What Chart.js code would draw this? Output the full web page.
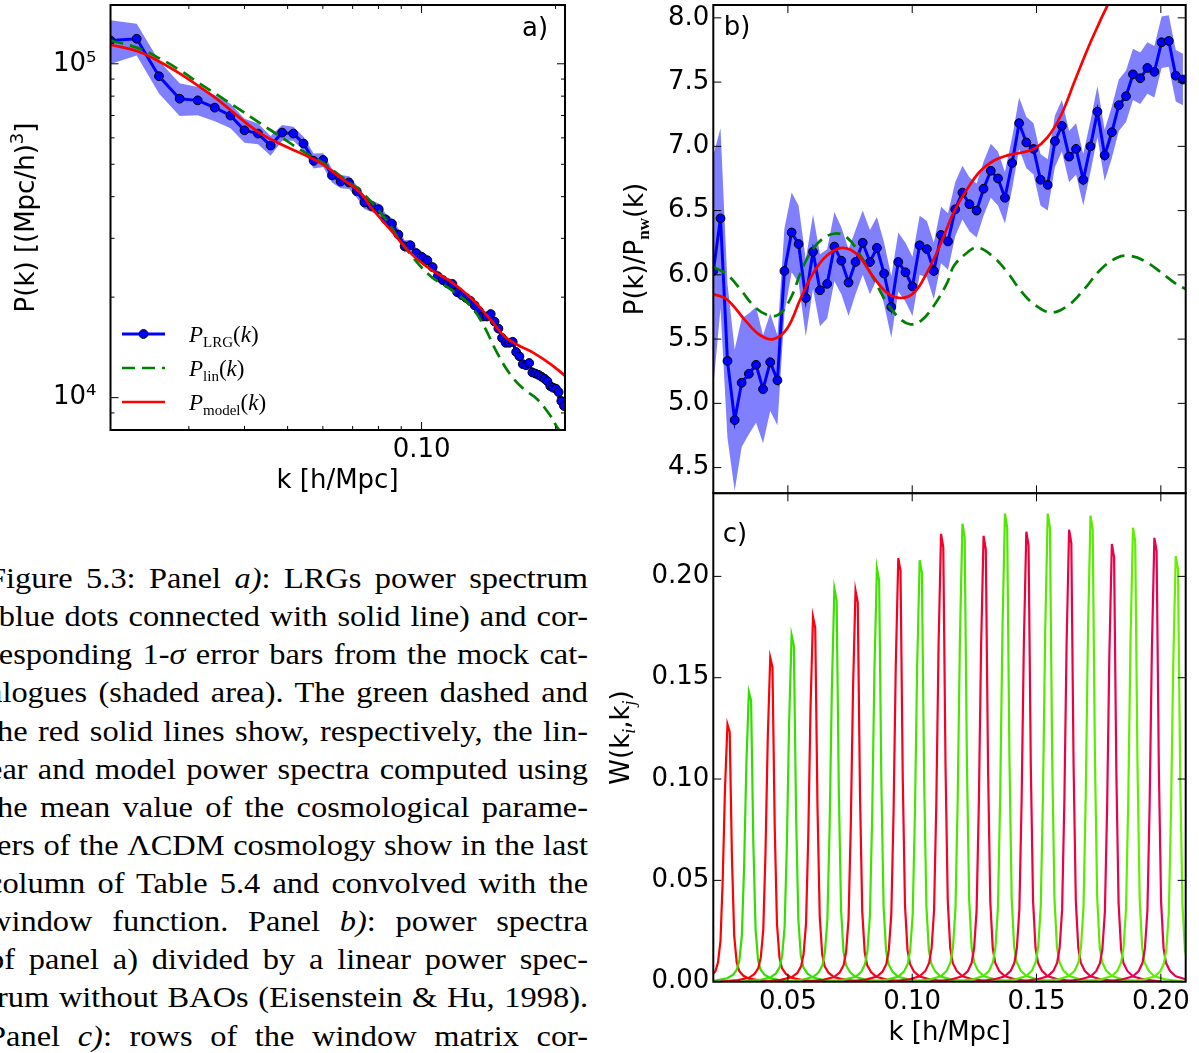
<!DOCTYPE html>
<html>
<head>
<meta charset="utf-8">
<script src="https://cdn.jsdelivr.net/npm/chart.js@4.4.0/dist/chart.umd.min.js"></script>
<style>
html, body { margin: 0; padding: 0; background: #fff; }
body { width: 1199px; height: 1053px; position: relative; overflow: hidden; }
canvas { position: absolute; }
#ca { left: 0; top: 0; }
#cb { left: 600px; top: 0; }
#cc { left: 600px; top: 480px; }
#caption {
    position: absolute; left: -12px; top: 559px; width: 546px;
    transform: scaleX(1.099); transform-origin: 0 0;
    font-family: "Liberation Serif", serif; font-size: 29.5px; line-height: 38.12px; color: #000;
}
#caption div { text-align: justify; text-align-last: justify; }
</style>
</head>
<body>
<canvas id="ca" width="600" height="500"></canvas>
<canvas id="cb" width="599" height="494"></canvas>
<canvas id="cc" width="599" height="573"></canvas>
<div id="caption">
<div>Figure 5.3: Panel <i>a)</i>: LRGs power spectrum</div>
<div>(blue dots connected with solid line) and cor-</div>
<div>responding 1-<i>σ</i> error bars from the mock cat-</div>
<div>alogues (shaded area). The green dashed and</div>
<div>the red solid lines show, respectively, the lin-</div>
<div>ear and model power spectra computed using</div>
<div>the mean value of the cosmological parame-</div>
<div>ters of the ΛCDM cosmology show in the last</div>
<div>column of Table 5.4 and convolved with the</div>
<div>window function. Panel <i>b)</i>: power spectra</div>
<div>of panel a) divided by a linear power spec-</div>
<div>trum without BAOs (Eisenstein &amp; Hu, 1998).</div>
<div>Panel <i>c)</i>: rows of the window matrix cor-</div>
</div>
<script>
// k bins of the measured spectrum [h/Mpc]
const kBins = [0.0200, 0.0229, 0.0257, 0.0286, 0.0314, 0.0343, 0.0372, 0.0400, 0.0429, 0.0458,
    0.0486, 0.0515, 0.0543, 0.0572, 0.0601, 0.0629, 0.0658, 0.0687, 0.0715, 0.0744,
    0.0772, 0.0801, 0.0830, 0.0858, 0.0887, 0.0916, 0.0944, 0.0973, 0.1001, 0.1030,
    0.1059, 0.1087, 0.1116, 0.1144, 0.1173, 0.1202, 0.1230, 0.1259, 0.1287, 0.1316,
    0.1345, 0.1373, 0.1402, 0.1430, 0.1459, 0.1488, 0.1516, 0.1545, 0.1574, 0.1602,
    0.1631, 0.1659, 0.1688, 0.1717, 0.1745, 0.1774, 0.1803, 0.1831, 0.1860, 0.1888,
    0.1917, 0.1946, 0.1974, 0.2003, 0.2032, 0.2060, 0.2089];

// panel a) LRG power spectrum
const lrgPower = [117400, 118800, 91800, 78600, 77700, 73900, 70000, 63200, 61800, 56900,
    62200, 61800, 57700, 51200, 51500, 46300, 44400, 44100, 41500, 38400,
    37500, 36700, 34200, 33200, 30800, 28400, 28600, 27100, 26400, 25800,
    24600, 23100, 22500, 22000, 21900, 20700, 20300, 19900, 19500, 18900,
    18200, 17500, 17500, 17800, 16900, 16100, 15100, 14600, 14600, 14700,
    13700, 13300, 12600, 12500, 12700, 11900, 11800, 11700, 11550, 11400,
    11200, 10830, 10710, 10640, 10390, 9770, 9440];

// panel b) P(k)/P_nw(k) and its 1-sigma error
const ratioLRG = [6.03, 6.44, 5.33, 4.87, 5.16, 5.23, 5.30, 5.11, 5.32, 5.18,
    6.03, 6.33, 6.24, 5.82, 6.18, 5.88, 5.93, 6.22, 6.11, 5.94,
    6.10, 6.25, 6.10, 6.21, 6.01, 5.75, 6.10, 6.02, 5.91, 6.23,
    6.20, 6.03, 6.31, 6.26, 6.51, 6.64, 6.55, 6.50, 6.67, 6.81,
    6.75, 6.60, 6.87, 7.18, 7.03, 6.98, 6.74, 6.70, 7.04, 7.16,
    6.92, 6.98, 6.74, 7.00, 7.27, 6.93, 7.11, 7.32, 7.39, 7.56,
    7.53, 7.61, 7.58, 7.81, 7.82, 7.55, 7.52];
const ratioErr = [0.90, 0.70, 0.60, 0.55, 0.50, 0.47, 0.45, 0.42, 0.38, 0.35,
    0.33, 0.31, 0.30, 0.30, 0.29, 0.28, 0.27, 0.27, 0.26, 0.26,
    0.25, 0.25, 0.25, 0.24, 0.24, 0.24, 0.23, 0.23, 0.23, 0.23,
    0.22, 0.22, 0.22, 0.22, 0.21, 0.21, 0.21, 0.21, 0.21, 0.21,
    0.21, 0.20, 0.20, 0.20, 0.20, 0.20, 0.20, 0.20, 0.20, 0.20,
    0.20, 0.20, 0.20, 0.20, 0.20, 0.20, 0.20, 0.20, 0.20, 0.20,
    0.20, 0.20, 0.20, 0.20, 0.20, 0.20, 0.20];

// panel a) linear and model spectra
const linKa = [0.0200, 0.0230, 0.0259, 0.0287, 0.0318, 0.0354, 0.0392, 0.0435, 0.0483, 0.0536,
    0.0595, 0.0660, 0.0732, 0.0823, 0.0882, 0.0945, 0.1048, 0.1162, 0.1290, 0.1380,
    0.1479, 0.1585, 0.1697, 0.1819, 0.1949, 0.2018, 0.2100];
const linPa = [117400, 111600, 103500, 95500, 87100, 79400, 72600, 66200, 60400, 55100,
    50900, 45900, 41400, 34800, 30400, 26800, 23100, 21100, 18800, 16400,
    13600, 11700, 10600, 9890, 8810, 8140, 7600];
const modelKa = [0.0200, 0.0230, 0.0259, 0.0287, 0.0318, 0.0354, 0.0392, 0.0435, 0.0483, 0.0536,
    0.0595, 0.0660, 0.0732, 0.0768, 0.0852, 0.0945, 0.1048, 0.1162, 0.1290, 0.1430,
    0.1532, 0.1641, 0.1788, 0.1949, 0.2105];
const modelPa = [114000, 109000, 101100, 93300, 85100, 76800, 68500, 61800, 57400, 53900,
    50300, 45400, 40900, 37300, 31800, 27100, 24200, 22300, 19900, 17100,
    15300, 14400, 13600, 12600, 11600];

// panel b) linear and model ratios
const linKb = [0.0200, 0.0254, 0.0308, 0.0362, 0.0415, 0.0462, 0.0509, 0.0563, 0.0617, 0.0684,
    0.0738, 0.0792, 0.0845, 0.0899, 0.0953, 0.0993, 0.1034, 0.1087, 0.1141, 0.1168,
    0.1222, 0.1262, 0.1329, 0.1383, 0.1437, 0.1490, 0.1558, 0.1625, 0.1692, 0.1759,
    0.1826, 0.1873, 0.1934, 0.2001, 0.2062, 0.2100];
const linRb = [6.06, 6.005, 5.89, 5.76, 5.69, 5.69, 5.81, 6.07, 6.24, 6.32,
    6.29, 6.15, 5.97, 5.78, 5.655, 5.615, 5.64, 5.76, 5.94, 6.07,
    6.174, 6.213, 6.135, 6.019, 5.875, 5.772, 5.707, 5.759, 5.889, 6.044,
    6.135, 6.148, 6.109, 6.019, 5.928, 5.89];
const modelKb = [0.0200, 0.0254, 0.0335, 0.0389, 0.0442, 0.0496, 0.0550, 0.0604, 0.0657, 0.0718,
    0.0778, 0.0845, 0.0899, 0.0953, 0.1007, 0.1060, 0.1114, 0.1168, 0.1222, 0.1275,
    0.1329, 0.1383, 0.1437, 0.1490, 0.1544, 0.1598, 0.1652, 0.1706, 0.1759, 0.1797, 0.1850];
const modelRb = [5.85, 5.81, 5.63, 5.53, 5.50, 5.58, 5.81, 6.02, 6.15, 6.21,
    6.16, 5.98, 5.86, 5.82, 5.86, 6.02, 6.24, 6.49, 6.67, 6.81,
    6.89, 6.93, 6.95, 6.98, 7.07, 7.24, 7.50, 7.76, 7.99, 8.15, 8.45];

// panel c) window matrix rows: centre, peak height, and the measured peak shape
const windowCenters = [0.0257, 0.0343, 0.0429, 0.0515, 0.0601, 0.0687, 0.0772, 0.0858, 0.0944, 0.1030,
    0.1116, 0.1202, 0.1287, 0.1373, 0.1459, 0.1545, 0.1631, 0.1717, 0.1803, 0.1888, 0.1974, 0.2060];
const windowPeaks = [0.127, 0.143, 0.160, 0.171, 0.180, 0.194, 0.193, 0.204, 0.209, 0.208,
    0.221, 0.226, 0.220, 0.231, 0.222, 0.231, 0.223, 0.230, 0.216, 0.224, 0.219, 0.210];
const windowOffsets = [-0.020, -0.013, -0.0086, -0.0063, -0.0048, -0.0038, -0.0028, -0.0019, -0.001, 0,
    0.0009, 0.0018, 0.0027, 0.0037, 0.0047, 0.0063, 0.0086, 0.013, 0.020];
const windowShape = [0, 0.005, 0.012, 0.024, 0.042, 0.075, 0.16, 0.4, 0.75, 1,
    0.97, 0.48, 0.18, 0.075, 0.042, 0.024, 0.012, 0.005, 0];

// tick marks
const aMajorX = [0.1], aMinorX = [0.03, 0.04, 0.05, 0.06, 0.07, 0.08, 0.09, 0.2];
const aMajorY = [1e4, 1e5], aMinorY = [9000, 2e4, 3e4, 4e4, 5e4, 6e4, 7e4, 8e4, 9e4];
const kTicks = [0.05, 0.10, 0.15, 0.20];
const bTicksY = [4.5, 5.0, 5.5, 6.0, 6.5, 7.0, 7.5, 8.0];
const cTicksY = [0, 0.05, 0.10, 0.15, 0.20];

Chart.defaults.font.family = '"DejaVu Sans"';
Chart.defaults.color = '#000';

const SANS = '26px "DejaVu Sans"';
const BAND = '#8080ff';

function pts(xs, ys) { return xs.map((x, i) => ({ x: x, y: ys[i] })); }

// inside ticks + black frame, matplotlib style
function frame(majX, minX, majY, minY) {
    return {
        id: 'frame',
        afterDatasetsDraw(chart) {
            const { ctx, chartArea: a } = chart;
            const sx = chart.scales.x, sy = chart.scales.y;
            ctx.save();
            ctx.strokeStyle = '#000';
            ctx.lineWidth = 1;
            const mark = (vals, len, horiz) => vals.forEach(v => {
                ctx.beginPath();
                if (horiz) {
                    const p = sx.getPixelForValue(v);
                    ctx.moveTo(p, a.bottom); ctx.lineTo(p, a.bottom - len);
                    ctx.moveTo(p, a.top); ctx.lineTo(p, a.top + len);
                } else {
                    const p = sy.getPixelForValue(v);
                    ctx.moveTo(a.left, p); ctx.lineTo(a.left + len, p);
                    ctx.moveTo(a.right, p); ctx.lineTo(a.right - len, p);
                }
                ctx.stroke();
            });
            mark(majX, 8, true); mark(minX, 4, true);
            mark(majY, 8, false); mark(minY, 4, false);
            ctx.lineWidth = 2;
            ctx.strokeRect(a.left, a.top, a.right - a.left, a.bottom - a.top);
            ctx.restore();
        }
    };
}

function overlay(fn) {
    return { id: 'overlay', afterDraw(chart) { const ctx = chart.ctx; ctx.save(); fn(ctx, chart); ctx.restore(); } };
}

// text made of pieces with different fonts (sub/superscripts)
function drawRich(ctx, parts, x, y, align) {
    let w = 0;
    parts.forEach(p => { ctx.font = p.f; w += ctx.measureText(p.t).width; });
    let cx = align === 'center' ? x - w / 2 : x;
    ctx.textAlign = 'left';
    ctx.textBaseline = 'alphabetic';
    parts.forEach(p => {
        ctx.font = p.f;
        ctx.fillText(p.t, cx, y + (p.dy || 0));
        cx += ctx.measureText(p.t).width;
    });
}

function vTitle(ctx, parts, x, y) {
    ctx.save();
    ctx.translate(x, y);
    ctx.rotate(-Math.PI / 2);
    ctx.fillStyle = '#000';
    drawRich(ctx, parts, 0, 9, 'center');
    ctx.restore();
}

function plainText(ctx, t, x, y) {
    ctx.fillStyle = '#000';
    ctx.font = SANS;
    ctx.textAlign = 'center';
    ctx.textBaseline = 'middle';
    ctx.fillText(t, x, y);
}

const baseOpts = {
    responsive: false,
    maintainAspectRatio: false,
    animation: false,
    devicePixelRatio: 1,
    events: [],
    plugins: { legend: { display: false }, tooltip: { enabled: false } }
};

// fixed-size axis box, no label overhang padding
function sized(w, h) {
    return s => {
        if (w !== null) s.width = w;
        if (h !== null) s.height = h;
        s.paddingTop = 0; s.paddingBottom = 0; s.paddingLeft = 0; s.paddingRight = 0;
    };
}

function axis(extra) {
    return Object.assign({
        grid: { display: false, drawTicks: false },
        border: { display: false }
    }, extra);
}

// ---------- panel a ----------
const bandHiA = kBins.map((k, i) => lrgPower[i] * (1 + ratioErr[i] / ratioLRG[i]));
const bandLoA = kBins.map((k, i) => lrgPower[i] * (1 - ratioErr[i] / ratioLRG[i]));

new Chart(document.getElementById('ca'), {
    type: 'line',
    data: {
        datasets: [
            { data: pts(kBins, bandHiA), fill: '+1', backgroundColor: BAND, borderColor: 'rgba(0,0,0,0)', borderWidth: 0, pointRadius: 0, order: 4 },
            { data: pts(kBins, bandLoA), fill: false, borderColor: 'rgba(0,0,0,0)', borderWidth: 0, pointRadius: 0, order: 4 },
            { data: pts(kBins, lrgPower), borderColor: '#0000ff', borderWidth: 3, pointRadius: 4.4,
              pointBackgroundColor: '#0000ff', pointBorderColor: '#000', pointBorderWidth: 1, order: 3 },
            { data: pts(linKa, linPa), borderColor: '#008000', borderWidth: 2.7, borderDash: [13, 7], pointRadius: 0, tension: 0.4, order: 2 },
            { data: pts(modelKa, modelPa), borderColor: '#ff0000', borderWidth: 2.7, pointRadius: 0, tension: 0.4, order: 1 }
        ]
    },
    options: Object.assign({}, baseOpts, {
        layout: { autoPadding: false, padding: { top: 5, right: 35, left: 0, bottom: 0 } },
        scales: {
            x: axis({
                type: 'logarithmic', min: 0.02, max: 0.21,
                afterBuildTicks: s => { s.ticks = aMajorX.map(v => ({ value: v })); },
                ticks: { autoSkip: false, maxRotation: 0, padding: 5, font: { size: 26 }, callback: v => v.toFixed(2) },
                afterFit: sized(null, 70)
            }),
            y: axis({
                type: 'logarithmic', min: 8000, max: 150000,
                afterBuildTicks: s => { s.ticks = aMajorY.map(v => ({ value: v })); },
                ticks: { autoSkip: false, padding: 14, font: { size: 26 }, callback: v => (v >= 1e5 ? '10\u2075' : '10\u2074') },
                afterFit: sized(110.5, null)
            })
        }
    }),
    plugins: [frame(aMajorX, aMinorX, aMajorY, aMinorY), overlay((ctx) => {
        vTitle(ctx, [{ t: 'P(k) [(Mpc/h)', f: SANS }, { t: '3', f: '18px "DejaVu Sans"', dy: -11 }, { t: ']', f: SANS }], 25, 217.5);
        plainText(ctx, 'k [h/Mpc]', 337.5, 481);
        plainText(ctx, 'a)', 535, 29);
        // legend
        const rows = [334, 368, 402];
        const subs = ['LRG', 'lin', 'model'];
        rows.forEach((y, i) => {
            ctx.save();
            ctx.lineWidth = i === 0 ? 3 : 2.7;
            ctx.strokeStyle = ['#0000ff', '#008000', '#ff0000'][i];
            if (i === 1) ctx.setLineDash([13, 7]);
            ctx.beginPath(); ctx.moveTo(122, y); ctx.lineTo(165, y); ctx.stroke();
            ctx.restore();
            if (i === 0) {
                ctx.beginPath(); ctx.arc(143.5, y, 4.4, 0, Math.PI * 2);
                ctx.fillStyle = '#0000ff'; ctx.fill();
                ctx.lineWidth = 1; ctx.strokeStyle = '#000'; ctx.stroke();
            }
            ctx.fillStyle = '#000';
            drawRich(ctx, [
                { t: 'P', f: 'italic 23px "Liberation Serif"' },
                { t: subs[i], f: '15px "Liberation Serif"', dy: 5 },
                { t: '(', f: '23px "Liberation Serif"' },
                { t: 'k', f: 'italic 23px "Liberation Serif"' },
                { t: ')', f: '23px "Liberation Serif"' }
            ], 189, y + 8, 'left');
        });
    })]
});

// ---------- panel b ----------
const bandHiB = ratioLRG.map((r, i) => r + ratioErr[i]);
const bandLoB = ratioLRG.map((r, i) => r - ratioErr[i]);

new Chart(document.getElementById('cb'), {
    type: 'line',
    data: {
        datasets: [
            { data: pts(kBins, bandHiB), fill: '+1', backgroundColor: BAND, borderColor: 'rgba(0,0,0,0)', borderWidth: 0, pointRadius: 0, order: 4 },
            { data: pts(kBins, bandLoB), fill: false, borderColor: 'rgba(0,0,0,0)', borderWidth: 0, pointRadius: 0, order: 4 },
            { data: pts(kBins, ratioLRG), borderColor: '#0000ff', borderWidth: 3, pointRadius: 4.4,
              pointBackgroundColor: '#0000ff', pointBorderColor: '#000', pointBorderWidth: 1, order: 3 },
            { data: pts(linKb, linRb), borderColor: '#008000', borderWidth: 2.7, borderDash: [13, 7], pointRadius: 0, tension: 0.4, order: 2 },
            { data: pts(modelKb, modelRb), borderColor: '#ff0000', borderWidth: 2.7, pointRadius: 0, tension: 0.4, order: 1 }
        ]
    },
    options: Object.assign({}, baseOpts, {
        layout: { autoPadding: false, padding: { top: 5, right: 13.3, left: 0, bottom: 0.7 } },
        scales: {
            x: axis({ type: 'linear', min: 0.02, max: 0.21, display: false }),
            y: axis({
                type: 'linear', min: 4.3, max: 8.1,
                afterBuildTicks: s => { s.ticks = bTicksY.map(v => ({ value: v })); },
                ticks: { autoSkip: false, padding: 4, font: { size: 26 }, callback: v => v.toFixed(1) },
                afterFit: sized(113.3, null)
            })
        }
    }),
    plugins: [frame(kTicks, [], bTicksY, []), overlay((ctx) => {
        vTitle(ctx, [{ t: 'P(k)/P', f: SANS }, { t: 'nw', f: 'bold 17px "Liberation Serif"', dy: 6 }, { t: '(k)', f: SANS }], 34, 249);
        plainText(ctx, 'b)', 137, 28);
    })]
});

// ---------- panel c ----------
const redA = [255, 0, 0], redB = [232, 0, 85];
const grnA = [45, 220, 0], grnB = [100, 240, 0];
function mix(a, b, t) { return 'rgb(' + a.map((v, i) => Math.round(v + (b[i] - v) * t)).join(',') + ')'; }

const windowSets = windowCenters.map((c, i) => {
    const t = i / (windowCenters.length - 1);
    return {
        data: windowOffsets.map((o, j) => ({ x: c + o, y: windowPeaks[i] * windowShape[j] })),
        borderColor: i % 2 === 0 ? mix(redA, redB, t) : mix(grnA, grnB, t),
        borderWidth: 2.2, pointRadius: 0, tension: 0, fill: false,
        order: windowCenters.length - i
    };
});

new Chart(document.getElementById('cc'), {
    type: 'line',
    data: { datasets: windowSets },
    options: Object.assign({}, baseOpts, {
        layout: { autoPadding: false, padding: { top: 13.3, right: 13.3, left: 0, bottom: 0 } },
        scales: {
            x: axis({
                type: 'linear', min: 0.02, max: 0.21,
                afterBuildTicks: s => { s.ticks = kTicks.map(v => ({ value: v })); },
                ticks: { autoSkip: false, maxRotation: 0, padding: 5, font: { size: 26 }, callback: v => v.toFixed(2) },
                afterFit: sized(null, 71.3)
            }),
            y: axis({
                type: 'linear', min: 0, max: 0.241,
                afterBuildTicks: s => { s.ticks = cTicksY.map(v => ({ value: v })); },
                ticks: { autoSkip: false, padding: 4, font: { size: 26 }, callback: v => v.toFixed(2) },
                afterFit: sized(113.3, null)
            })
        }
    }),
    plugins: [frame(kTicks, [], cTicksY, []), overlay((ctx) => {
        vTitle(ctx, [
            { t: 'W(k', f: SANS }, { t: 'i', f: 'italic 18px "Liberation Serif"', dy: 6 },
            { t: ',k', f: SANS }, { t: 'j', f: 'italic 18px "Liberation Serif"', dy: 6 },
            { t: ')', f: SANS }
        ], 20, 257.5);
        plainText(ctx, 'k [h/Mpc]', 349.5, 553);
        plainText(ctx, 'c)', 135, 55);
    })]
});
</script>
</body>
</html>
